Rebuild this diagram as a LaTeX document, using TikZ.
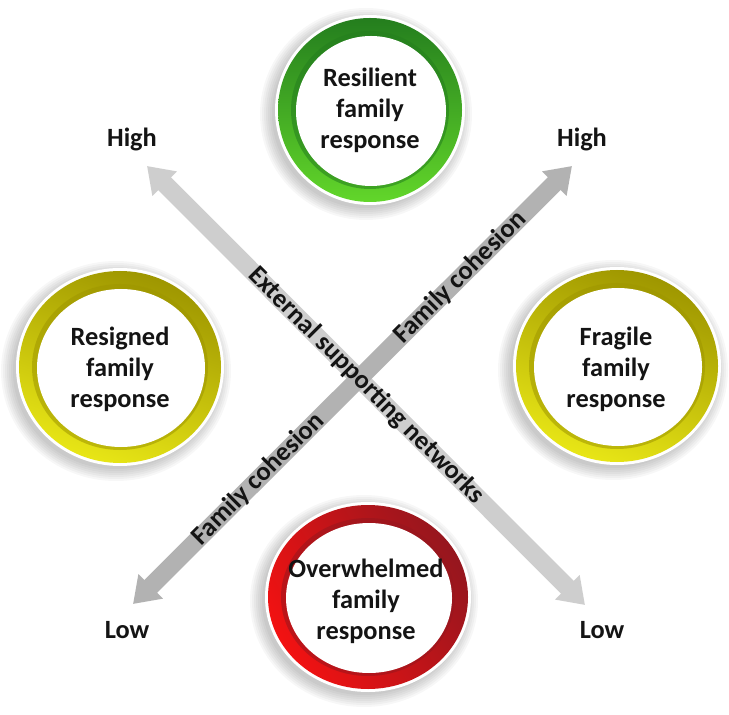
\documentclass[tikz,border=0pt]{standalone}
\usepackage{xcolor}
\usepackage{fontspec}
\setmainfont{Carlito}
\usetikzlibrary{arrows.meta}
\definecolor{greenDark}{RGB}{36,126,30}
\definecolor{greenLight}{RGB}{98,214,42}
\definecolor{yellowDark}{RGB}{158,150,0}
\definecolor{yellowLight}{RGB}{232,230,22}
\definecolor{redDark}{RGB}{150,22,30}
\definecolor{redLight}{RGB}{242,18,18}
\definecolor{extGray}{RGB}{206,206,206}
\definecolor{cohGray}{RGB}{178,178,178}
\tikzset{
  respText/.style={align=center,text=black!92,font=\bfseries\fontsize{15}{17.6}\selectfont},
  axisLabel/.style={text=black!92,font=\bfseries\fontsize{15}{17.6}\selectfont},
  axisArrow/.style={line width=0.36cm,{Triangle[width=0.66cm,length=0.5cm]}-{Triangle[width=0.66cm,length=0.5cm]}},
  alongText/.style={sloped,inner sep=0pt,text=black!92,font=\bfseries\fontsize{15}{17.6}\selectfont}
}
\newcommand{\drawRing}[7]{%
  \foreach \k in {2,4,...,14}
    \fill[black,opacity=0.03] (#1-4,#2+4) ellipse [x radius=#3+\k, y radius=#4+\k];
  \fill[white] (#1,#2) ellipse [x radius=#3+3, y radius=#4+3];
  \shade[top color=#5,bottom color=#6,shading angle=#7] (#1,#2) ellipse [x radius=#3, y radius=#4];
  \fill[#5,opacity=0.55] (#1,#2) ellipse [x radius=#3-13, y radius=#4-13];
  \fill[white] (#1+1,#2+1) ellipse [x radius=#3-17, y radius=#4-17];
}

\begin{document}
\begin{tikzpicture}[x=0.02cm,y=-0.02cm]
  \fill[white] (0,0) rectangle (729,715);
  \useasboundingbox (0,0) rectangle (729,715);

  \drawRing{370}{110}{92}{92}{greenDark}{greenLight}{0}
  \drawRing{120}{367}{101}{96}{yellowDark}{yellowLight}{-20}
  \drawRing{617}{366}{101}{96}{yellowDark}{yellowLight}{-20}
  \drawRing{368}{597}{100}{92}{redDark}{redLight}{-60}

  \node[respText] (resilient) at (370,110) {Resilient\\family\\response};
  \node[respText] (resigned) at (120,369) {Resigned\\family\\response};
  \node[respText] (fragile) at (616,369) {Fragile\\family\\response};
  \node[respText] (overwhelmed) at (366,601) {Overwhelmed\\family\\response};

  \coordinate (extHigh) at (147,166);
  \coordinate (extLow) at (585,605);
  \coordinate (cohHigh) at (572,166);
  \coordinate (cohLow) at (133,604);

  \draw[axisArrow,extGray] (extHigh) -- (extLow);
  \draw[axisArrow,cohGray] (cohLow) -- (cohHigh);

  \path (extHigh) -- (extLow) node[alongText,pos=0.5] (extText) {External supporting networks};
  \path (cohLow) -- (cohHigh) node[alongText,pos=0.285] (cohTextLow) {Family cohesion};
  \path (cohLow) -- (cohHigh) node[alongText,pos=0.745] (cohTextHigh) {Family cohesion};

  \node[axisLabel] (extHighLbl) at (132,139) {High};
  \node[axisLabel] (cohHighLbl) at (582,139) {High};
  \node[axisLabel] (cohLowLbl) at (127,630) {Low};
  \node[axisLabel] (extLowLbl) at (602,630) {Low};
\end{tikzpicture}
\end{document}
